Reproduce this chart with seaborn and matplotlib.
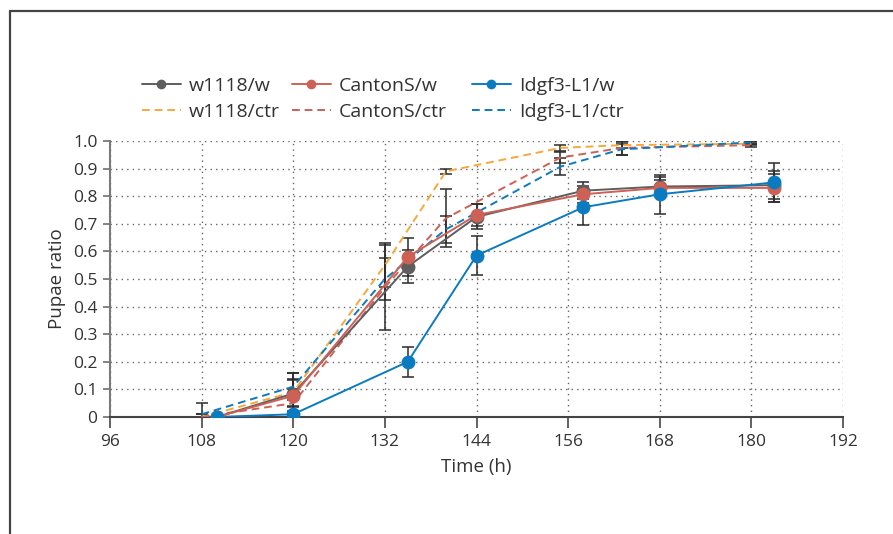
import matplotlib
matplotlib.use("Agg")
import matplotlib.pyplot as plt
import seaborn as sns
from matplotlib.lines import Line2D

# time points (h)
t_w = [110, 120, 135, 144, 158, 168, 183]
t_ctr = [108, 120, 132, 140, 155, 163, 180]

# pupae ratio, w knockdown series
w1118_w = [0, 0.085, 0.545, 0.725, 0.82, 0.835, 0.84]
cantons_w = [0, 0.077, 0.58, 0.732, 0.807, 0.83, 0.83]
idgf3_w = [0, 0.01, 0.20, 0.585, 0.76, 0.807, 0.85]
w1118_w_err = [0, 0.05, 0.06, 0.045, 0.03, 0.035, 0.05]
cantons_w_err = [0, 0.06, 0.07, 0.04, 0.03, 0.03, 0.05]
idgf3_w_err = [0, 0.03, 0.054, 0.07, 0.065, 0.07, 0.07]

# control series
w1118_ctr = [0, 0.09, 0.55, 0.89, 0.975, 0.985, 0.99]
cantons_ctr = [0, 0.05, 0.47, 0.72, 0.94, 0.975, 0.985]
idgf3_ctr = [0.01, 0.11, 0.50, 0.68, 0.907, 0.97, 0.995]
w1118_ctr_err = [0.05, 0.07, 0.08, 0.01, 0.01, 0.01, 0.005]
cantons_ctr_err = [0, 0.05, 0.155, 0.105, 0.02, 0.025, 0.005]
idgf3_ctr_err = [0, 0.05, 0.075, 0.05, 0.03, 0.02, 0.005]

labels = ["w1118", "CantonS", "Idgf3-L1"]
GRAY = "#5e5e5e"
RED = "#cd6156"
BLUE = "#0b7bc1"
ORANGE = "#f6a83a"
TXT = "#333333"

sns.set_style("white")
plt.rcParams["font.family"] = ["Open Sans", "DejaVu Sans"]

fig = plt.figure(figsize=(8.93, 5.34), dpi=100)
ax = fig.add_axes([110 / 893, 1 - 417 / 534, 733 / 893, 276 / 534])

ctr_sets = [(w1118_ctr, w1118_ctr_err, ORANGE), (cantons_ctr, cantons_ctr_err, RED),
            (idgf3_ctr, idgf3_ctr_err, BLUE)]
w_sets = [(w1118_w, w1118_w_err, GRAY), (cantons_w, cantons_w_err, RED),
          (idgf3_w, idgf3_w_err, BLUE)]

for (vals, err, col) in ctr_sets:
    ax.errorbar(t_ctr, vals, yerr=err, fmt="none", ecolor="#2b2b2b", elinewidth=1.1,
                capsize=4, capthick=1.1, zorder=2)
for (vals, err, col) in w_sets:
    ax.errorbar(t_w, vals, yerr=err, fmt="none", ecolor="#2b2b2b", elinewidth=1.1,
                capsize=4, capthick=1.1, zorder=2)

for (vals, err, col) in ctr_sets:
    sns.lineplot(x=t_ctr, y=vals, ax=ax, color=col, linestyle=(0, (4, 2.5)),
                 linewidth=1.4, zorder=3)
for (vals, err, col) in w_sets:
    sns.lineplot(x=t_w, y=vals, ax=ax, color=col, linewidth=1.4, marker="o",
                 markersize=10, markeredgewidth=0, zorder=4)

ax.set_xlim(96, 192)
ax.set_ylim(0, 1.0)
ax.set_xticks(range(96, 193, 12))
ax.set_yticks([i / 10 for i in range(11)])
ax.set_yticklabels(["0"] + [f"{i / 10:.1f}" for i in range(1, 11)])
ax.grid(True, linestyle=(0, (1, 3)), color="#666666", linewidth=1.0)
ax.set_axisbelow(True)
for s in ["top", "right"]:
    ax.spines[s].set_visible(False)
ax.spines["left"].set_color("#7a7a7a")
ax.spines["left"].set_linewidth(1.5)
ax.spines["bottom"].set_color("#444444")
ax.spines["bottom"].set_linewidth(1.5)
ax.tick_params(axis="x", length=8, width=1.3, color="#555555", labelsize=12.5,
               labelcolor=TXT, bottom=True, pad=4)
ax.tick_params(axis="y", length=5, width=1.3, color="#7a7a7a", labelsize=12.5,
               labelcolor=TXT, left=True, pad=4)
ax.set_xlabel("Time (h)", fontsize=13.5, color=TXT, labelpad=6)
ax.set_ylabel("Pupae ratio", fontsize=13.5, color=TXT, labelpad=5)

# legend: one column per strain
cols = [(GRAY, ORANGE), (RED, RED), (BLUE, BLUE)]
xs = [142, 292, 472]
for name, (cw, cc), x in zip(labels, cols, xs):
    h = [Line2D([], [], color=cw, linewidth=1.4, marker="o", markersize=7, markeredgewidth=0),
         Line2D([], [], color=cc, linewidth=1.4, linestyle=(0, (4, 2.5)))]
    fig.legend(h, [f"{name}/w", f"{name}/ctr"], loc="center left",
               bbox_to_anchor=(x / 893, 1 - 99 / 534), frameon=False, fontsize=14,
               handlelength=2.0, handletextpad=0.4, labelspacing=0.4,
               borderpad=0, borderaxespad=0, labelcolor=TXT)

# outer frame (left and top edges visible)
fig.add_artist(Line2D([10 / 893, 10 / 893], [0, 1 - 11 / 534], color="#444444",
                      linewidth=1.6, transform=fig.transFigure))
fig.add_artist(Line2D([10 / 893, 1], [1 - 11 / 534, 1 - 11 / 534], color="#444444",
                      linewidth=1.6, transform=fig.transFigure))

fig.savefig("out.png", dpi=100)
